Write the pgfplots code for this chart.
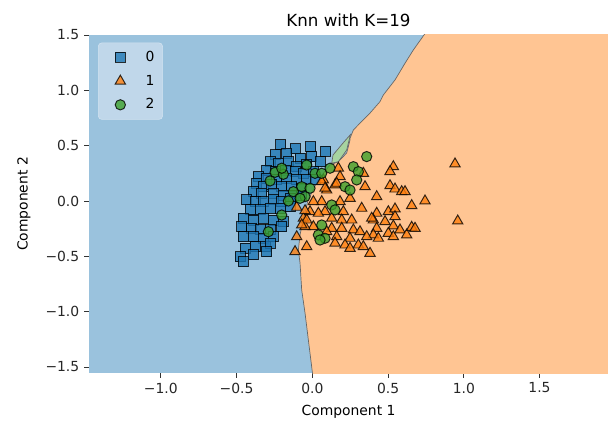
\documentclass[border=0pt]{standalone}
\usepackage{fontspec}
\setmainfont{DejaVu Sans}
\usepackage{pgfplots}
\pgfplotsset{compat=1.18}
\definecolor{blueReg}{RGB}{154,194,221}
\definecolor{orangeReg}{RGB}{255,197,147}
\definecolor{greenReg}{RGB}{167,212,160}
\definecolor{tabblue}{HTML}{1F77B4}
\definecolor{taborange}{HTML}{FF7F0E}
\definecolor{tabgreen}{HTML}{3CA02C}
\definecolor{legbg}{RGB}{192,215,234}
\pgfplotsset{myleg/.style={legend image code/.code={\path[draw=none,fill=none] (0cm,-1pt) rectangle (0.84cm,1pt); \draw[##1] plot coordinates {(0.42cm,0cm)};}}}
\begin{document}
\begin{tikzpicture}
\begin{axis}[
  scale only axis, width=373.7pt, height=243.4pt,
  xmin=-1.474, xmax=1.952, ymin=-1.555, ymax=1.5,
  axis background/.style={fill=blueReg},
  axis line style={draw=none},
  tick align=outside, tick pos=left, major tick length=3.5pt,
  tick style={black!80, line width=0.6pt},
  xtick={-1,-0.5,0,0.5,1,1.5}, xticklabels={−1.0,−0.5,0.0,0.5,1.0,1.5},
  ytick={-1.5,-1,-0.5,0,0.5,1,1.5}, yticklabels={−1.5,−1.0,−0.5,0.0,0.5,1.0,1.5},
  tick label style={font=\fontsize{10}{12}\selectfont, text=black!85},
  xlabel={Component 1}, ylabel={Component 2},
  xlabel shift=1.5pt, ylabel shift=4pt,
  label style={font=\fontsize{10}{12}\selectfont},
  title={Knn with K=19}, title style={font=\fontsize{12}{14}\selectfont, yshift=-3.5pt},
  legend style={at={(0,1)}, anchor=north west, xshift=6.5pt, yshift=-5.5pt,
    fill=legbg, draw=legbg!70!white, rounded corners=2.5pt,
    font=\fontsize{10}{12}\selectfont, row sep=4.2pt, column sep=4.2pt,
    inner xsep=3.9pt, inner ysep=4pt},
  legend cell align=left,
]
% decision regions
\addplot[fill=orangeReg, draw=black!60, line width=0.5pt, forget plot] coordinates {
(0.80,1.62) (0.737,1.5) (0.667,1.365) (0.612,1.245) (0.546,1.094) (0.469,0.958)
(0.447,0.898) (0.380,0.793) (0.315,0.703) (0.271,0.642) (0.249,0.567) (0.249,0.552)
(0.227,0.434) (0.172,0.355) (0.117,0.325) (0.038,0.190) (-0.028,0.009) (-0.061,-0.172)
(-0.081,-0.307) (-0.092,-0.443) (-0.081,-0.561) (-0.070,-0.805) (-0.048,-1.013)
(-0.026,-1.257) (0.001,-1.555) (0.005,-1.65) (2.1,-1.65) (2.1,1.62)
} -- cycle;
\addplot[fill=greenReg, draw=black!60, line width=0.5pt, forget plot] coordinates {
(0.252,0.600) (0.227,0.461) (0.172,0.355) (0.128,0.341) (0.137,0.416) (0.203,0.524)
} -- cycle;
% class 0
\addplot[only marks, myleg, mark=square*, mark size=3.6pt,
  mark options={fill=tabblue, draw=black, line width=0.7pt, fill opacity=0.8, draw opacity=0.8}]
table {
x y
-0.209 0.506
-0.114 0.470
-0.011 0.491
0.090 0.449
-0.246 0.416
-0.169 0.431
-0.081 0.386
-0.004 0.401
0.051 0.356
-0.279 0.356
-0.224 0.341
-0.158 0.356
-0.103 0.310
-0.037 0.326
-0.301 0.280
-0.246 0.265
-0.180 0.280
-0.114 0.265
-0.059 0.250
0.007 0.265
-0.356 0.220
-0.301 0.205
-0.235 0.190
-0.169 0.205
-0.103 0.190
-0.037 0.190
0.018 0.190
-0.367 0.160
-0.323 0.130
-0.268 0.145
-0.202 0.130
-0.136 0.130
-0.070 0.115
-0.389 0.084
-0.334 0.069
-0.257 0.069
-0.191 0.054
-0.125 0.054
-0.070 0.054
-0.433 0.009
-0.378 -0.006
-0.323 -0.006
-0.257 0.009
-0.202 -0.006
-0.147 0.024
-0.411 -0.081
-0.345 -0.081
-0.279 -0.066
-0.213 -0.066
-0.147 -0.051
-0.455 -0.157
-0.389 -0.172
-0.323 -0.157
-0.257 -0.172
-0.191 -0.187
-0.466 -0.232
-0.400 -0.247
-0.345 -0.262
-0.279 -0.262
-0.202 -0.232
-0.455 -0.322
-0.389 -0.322
-0.323 -0.338
-0.257 -0.322
-0.444 -0.428
-0.378 -0.413
-0.312 -0.413
-0.279 -0.383
-0.477 -0.503
-0.455 -0.549
-0.389 -0.488
-0.301 -0.458
};
\addlegendentry{0}
% class 1
\addplot[only marks, myleg, mark=triangle*, mark size=4.3pt,
  mark options={fill=taborange, draw=black, line width=0.7pt, fill opacity=0.8, draw opacity=0.8}]
table {
x y
0.942 0.335
0.960 -0.181
0.744 0.000
0.656 -0.042
0.535 0.310
0.513 0.265
0.513 0.138
0.546 0.108
0.590 0.084
0.612 0.084
0.425 0.039
0.425 -0.111
0.502 -0.097
0.546 -0.072
0.403 -0.172
0.480 -0.187
0.535 -0.226
0.425 -0.247
0.502 -0.292
0.535 -0.323
0.579 -0.262
0.623 -0.307
0.656 -0.238
0.678 -0.247
0.403 -0.307
0.172 0.296
0.337 0.250
0.183 0.220
0.073 0.190
0.150 0.145
0.095 0.099
0.348 0.129
0.062 -0.006
0.183 -0.006
0.249 0.024
0.326 -0.066
0.084 -0.097
0.205 -0.097
-0.015 -0.097
-0.059 -0.156
0.128 -0.156
0.194 -0.172
0.260 -0.172
0.392 -0.156
0.546 -0.142
0.128 -0.247
0.194 -0.247
0.271 -0.262
0.315 -0.278
0.007 -0.232
0.161 -0.323
0.249 -0.337
0.359 -0.323
0.436 -0.337
0.095 -0.278
0.216 -0.398
0.304 -0.398
0.249 -0.428
0.337 -0.413
0.381 -0.473
0.150 -0.382
-0.103 -0.323
-0.037 -0.413
-0.114 -0.458
-0.048 -0.232
-0.037 -0.172
-0.103 -0.057
-0.048 -0.088
0.007 -0.006
0.040 -0.111
-0.070 -0.217
0.161 0.160
0.062 0.175
0.084 0.115
};
\addlegendentry{1}
% class 2
\addplot[only marks, myleg, mark=*, mark size=3.7pt,
  mark options={fill=tabgreen, draw=black, line width=0.7pt, fill opacity=0.8, draw opacity=0.8}]
table {
x y
0.359 0.401
-0.037 0.325
0.018 0.250
0.062 0.250
0.117 0.296
0.271 0.310
0.304 0.265
0.293 0.190
0.216 0.129
0.249 0.099
-0.070 0.129
-0.015 0.115
-0.048 0.039
0.128 -0.036
0.150 -0.081
0.062 -0.217
0.040 -0.307
0.084 -0.337
0.051 -0.353
-0.246 0.259
-0.191 0.241
-0.279 0.181
-0.125 0.084
-0.081 0.024
-0.158 0.000
-0.202 0.296
-0.202 -0.127
-0.290 -0.278
};
\addlegendentry{2}
\end{axis}
\pgfresetboundingbox
\path ([xshift=-64.1pt,yshift=-34.6pt]current axis.south west) rectangle ([yshift=25.2pt]current axis.north east);
\end{tikzpicture}
\end{document}
